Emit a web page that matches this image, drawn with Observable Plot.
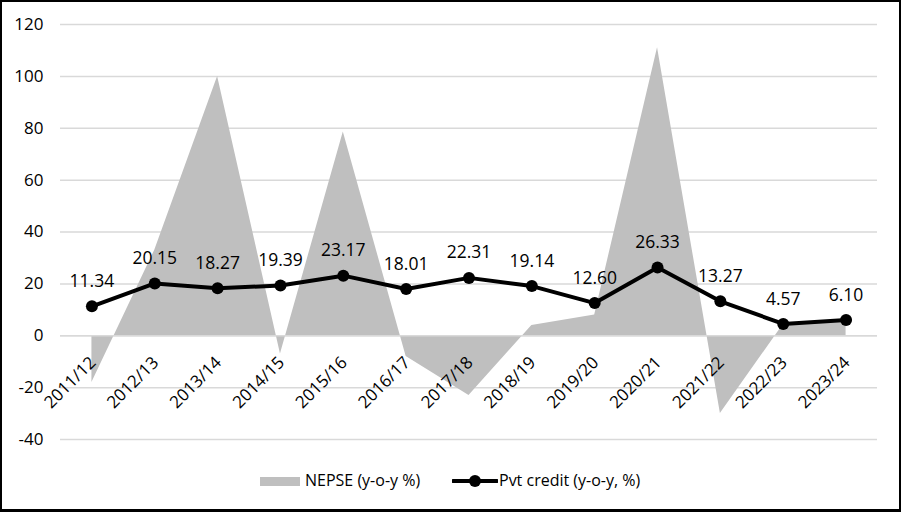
<!DOCTYPE html>
<html>
<head>
<meta charset="utf-8">
<script src="https://cdn.jsdelivr.net/npm/d3@7"></script>
<script src="https://cdn.jsdelivr.net/npm/@observablehq/plot@0.6"></script>
<style>
  html, body { margin: 0; padding: 0; background: #fff; }
  #wrap { position: relative; width: 901px; height: 512px; overflow: hidden; background: #fff; font-family: "Open Sans", sans-serif; }
  #frame { position: absolute; left: 0; top: 0; width: 901px; height: 512px; box-sizing: border-box; border: 2px solid #000; border-bottom-width: 3px; pointer-events: none; }
  #chart { position: absolute; left: 0; top: 0; }
  .leg { position: absolute; font-size: 16px; color: #000; line-height: 1; white-space: nowrap; }
</style>
</head>
<body>
<div id="wrap">
  <div id="chart"></div>
  <div id="legend"></div>
  <div id="frame"></div>
</div>
<script>
const years = ["2011/12","2012/13","2013/14","2014/15","2015/16","2016/17","2017/18","2018/19","2019/20","2020/21","2021/22","2022/23","2023/24"];
const nepse = [-18, 33, 100, -7, 78.6, -8, -23, 4, 8, 111, -30, 4.3, 6];
const credit = [11.34, 20.15, 18.27, 19.39, 23.17, 18.01, 22.31, 19.14, 12.60, 26.33, 13.27, 4.57, 6.10];
const yTicks = [-40, -20, 0, 20, 40, 60, 80, 100, 120];
const seriesNames = ["NEPSE (y-o-y %)", "Pvt credit (y-o-y, %)"];

const rows = years.map((y, i) => ({i, year: y, nepse: nepse[i], credit: credit[i]}));

const plot = Plot.plot({
  width: 901,
  height: 460,
  marginLeft: 60,
  marginRight: 24,
  marginTop: 24,
  marginBottom: 21,
  x: {domain: [-0.5, years.length - 0.5], axis: null},
  y: {domain: [-40, 120], axis: null},
  style: {fontFamily: "Open Sans, sans-serif", fontSize: "17px", color: "#000", background: "transparent", overflow: "visible"},
  marks: [
    Plot.ruleY(yTicks, {stroke: "#d9d9d9", strokeWidth: 1.5}),
    Plot.areaY(rows, {x: "i", y: "nepse", fill: "#bfbfbf", curve: "linear"}),
    Plot.ruleY([0], {stroke: "#d9d9d9", strokeWidth: 1.5}),
    Plot.axisY({ticks: yTicks, tickSize: 0, tickPadding: 17, tickFormat: d => String(d), fontSize: 17, fill: "#000"}),
    Plot.text(rows, {x: "i", y: () => 0, text: "year", rotate: -45, textAnchor: "end", dx: 1, dy: 24, fontSize: 17, fill: "#000"}),
    Plot.line(rows, {x: "i", y: "credit", stroke: "#000", strokeWidth: 4, strokeLinejoin: "round"}),
    Plot.dot(rows, {x: "i", y: "credit", r: 6, fill: "#000", stroke: "none"}),
    Plot.text(rows, {x: "i", y: "credit", text: d => d.credit.toFixed(2), dy: -25, fontSize: 17.5, fill: "#000"})
  ]
});
document.getElementById("chart").appendChild(plot);

const legend = document.getElementById("legend");
legend.innerHTML = `
  <div style="position:absolute;left:260px;top:477px;width:40px;height:9px;background:#bfbfbf"></div>
  <div class="leg" style="left:305px;top:472px">${seriesNames[0]}</div>
  <svg style="position:absolute;left:452px;top:472px" width="46" height="18">
    <line x1="1" y1="9" x2="45" y2="9" stroke="#000" stroke-width="4" stroke-linecap="round"/>
    <circle cx="23" cy="9" r="6" fill="#000"/>
  </svg>
  <div class="leg" style="left:499px;top:472px">${seriesNames[1]}</div>
`;
</script>
</body>
</html>
